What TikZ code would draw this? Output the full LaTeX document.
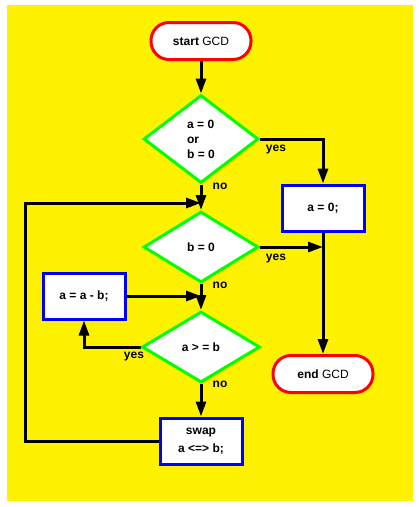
\documentclass[tikz,border=0pt]{standalone}
\usepackage{fontspec}
\setmainfont{Liberation Sans}
\usetikzlibrary{shapes, arrows.meta}

\begin{document}
\begin{tikzpicture}[x=1pt, y=-1pt, line width=3pt,
        font=\fontsize{12}{15}\selectfont\bfseries,
        term/.style={draw=red, fill=white, rounded corners=18pt, minimum width=100pt, minimum height=37pt},
        cond/.style={diamond, draw=green, fill=white, minimum width=115pt, minimum height=71pt, inner sep=0pt, align=left},
        stmt/.style={draw=blue, fill=white, minimum width=82pt, minimum height=46pt, align=center},
        flow/.style={-{Triangle[length=15pt, width=10pt]}}]
        \useasboundingbox (0, 0) rectangle (419, 507);
        \fill[yellow] (7, 5) rectangle (413, 501);

        \node[term] (a) at (201, 41) {start \textmd{GCD}};
        \node[cond, minimum height=88pt] (b) at (201, 139) {a = 0\\or\\b = 0};
        \node[stmt] (c) at (323, 208) {a = 0;};
        \node[cond] (d) at (201, 247) {b = 0};
        \node[term] (e) at (323, 374) {end \textmd{GCD}};
        \node[stmt] (f) at (84, 296) {a = a - b;};
        \node[cond, minimum width=118pt] (g) at (201, 347) {a > = b};
        \node[stmt] (h) at (201, 441) {swap\\[3pt]a <=> b;};
        \coordinate (k) at (25, 203);

        \draw[flow] (a) to (b);
        \draw[flow] (b.east) -| (c.north);
        \draw[flow] (b) to (d);
        \draw[flow] (c) to (e);
        \draw[flow] (d.east) to (d.east -| c.south);
        \draw[flow] (f.east) to (f.east -| d.south);
        \draw[flow] (d) to (g);
        \draw[flow] (g.west) -| (f.south);
        \draw[flow] (g) to (h);
        \draw[flow] (h.west) -| (k) to (k -| b.south);

        \node (l) at (276, 150) {yes};
        \node (m) at (220, 186) {no};
        \node (n) at (276, 259) {yes};
        \node (o) at (220, 285) {no};
        \node (p) at (134, 357) {yes};
        \node (q) at (220, 384) {no};
    \end{tikzpicture}
\end{document}
